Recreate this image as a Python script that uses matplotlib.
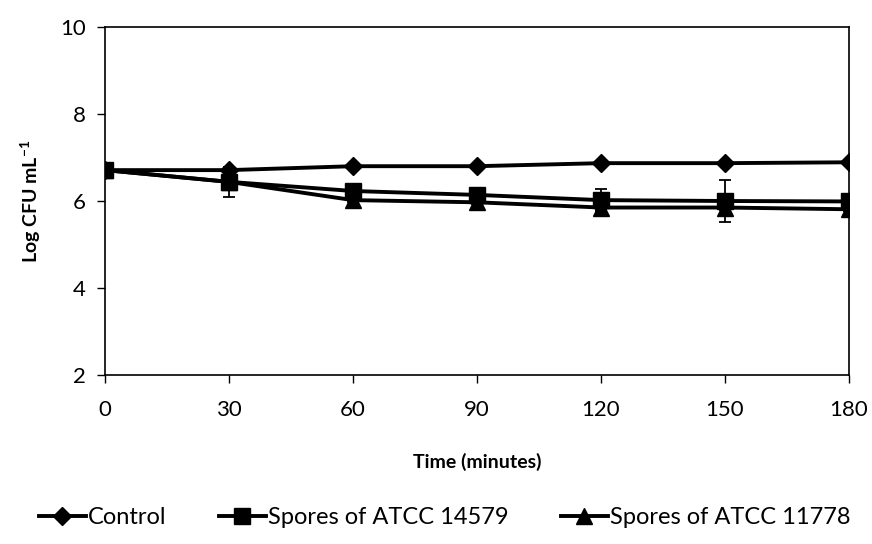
import matplotlib
matplotlib.use("Agg")
import matplotlib.pyplot as plt

plt.rcParams.update({"font.family": ["Lato", "DejaVu Sans"], "font.size": 16})

time_min = [0, 30, 60, 90, 120, 150, 180]
control = [6.71, 6.71, 6.80, 6.80, 6.87, 6.87, 6.89]
control_err = [0.02, 0.03, 0.03, 0.03, 0.03, 0.03, 0.03]
atcc14579 = [6.71, 6.44, 6.23, 6.14, 6.02, 6.00, 5.99]
atcc14579_err = [0.05, 0.34, 0.10, 0.08, 0.26, 0.48, 0.08]
atcc11778 = [6.71, 6.44, 6.02, 5.97, 5.85, 5.85, 5.81]
atcc11778_err = [0.05, 0.05, 0.05, 0.05, 0.05, 0.05, 0.05]

fig = plt.figure(figsize=(8.72, 5.44), dpi=100)
ax = fig.add_axes([105 / 872, 1 - 375 / 544, (849 - 105) / 872, (375 - 27) / 544])

series = [(control, control_err, "D", 9, "Control"),
          (atcc14579, atcc14579_err, "s", 11, "Spores of ATCC 14579"),
          (atcc11778, atcc11778_err, "^", 11, "Spores of ATCC 11778")]
for vals, err, mk, ms, lab in series:
    ax.errorbar(time_min, vals, yerr=err, fmt="none", ecolor="black",
                elinewidth=1.3, capsize=4, capthick=1.3)
    ax.plot(time_min, vals, color="black", lw=2.8, marker=mk, ms=ms, label=lab)

ax.set_xlim(0, 180); ax.set_ylim(2, 10)
ax.set_xticks(time_min); ax.set_yticks([2, 4, 6, 8, 10])
ax.tick_params(direction="out", length=6, width=1, labelsize=16)
ax.tick_params(axis="x", pad=12)
ax.tick_params(axis="y", pad=8)
for s in ax.spines.values():
    s.set_linewidth(1.2)
ax.set_xlabel("Time (minutes)", fontweight="bold", fontsize=14, labelpad=24)
ax.set_ylabel("Log CFU mL$^{\\mathregular{-1}}$", fontweight="bold", fontsize=14, labelpad=12)

fig.legend(loc="center", bbox_to_anchor=(0.51, 1 - 518 / 544), ncol=3, frameon=False,
           handlelength=2.0, columnspacing=2.2, handletextpad=0.1, fontsize=17)

fig.savefig("out.png", dpi=100)
